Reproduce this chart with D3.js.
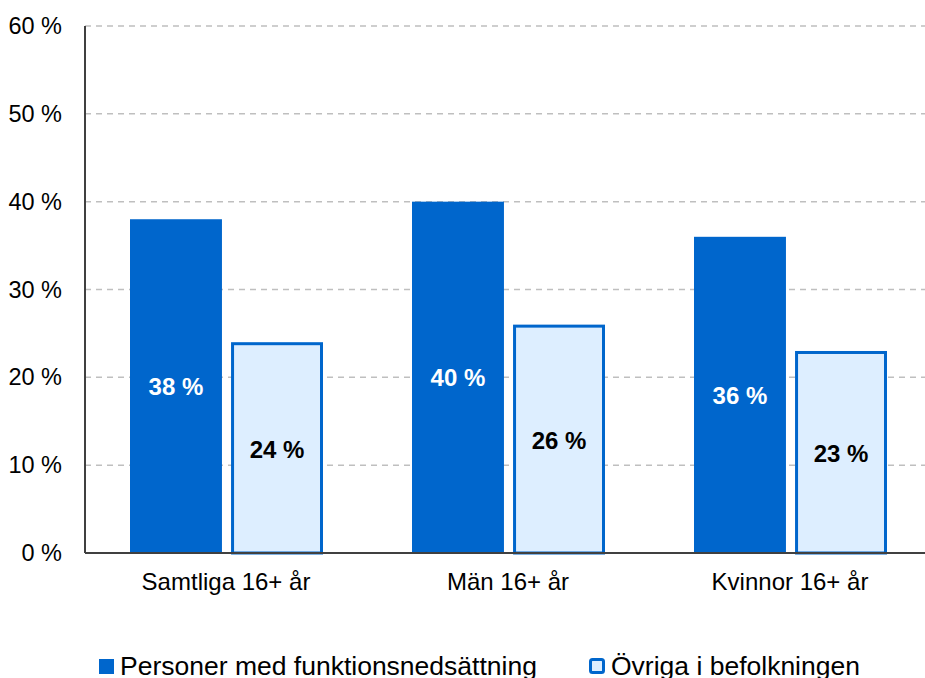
<!DOCTYPE html>
<html>
<head>
<meta charset="utf-8">
<script src="https://cdn.jsdelivr.net/npm/d3@7"></script>
<style>
  body { margin: 0; background: #fff; }
  svg { font-family: "Liberation Sans", Arial, sans-serif; }
</style>
</head>
<body>
<svg width="925" height="678"></svg>
<script>
const categories = ['Samtliga 16+ år', 'Män 16+ år', 'Kvinnor 16+ år'];
const seriesNames = ['Personer med funktionsnedsättning', 'Övriga i befolkningen'];
const funktion = [38, 40, 36];
const ovriga = [24, 26, 23];
const yTicks = [0, 10, 20, 30, 40, 50, 60];

const svg = d3.select('svg');
const margin = {left: 85, right: 0, top: 26, bottom: 125};
const width = 925, height = 678;

const x = d3.scaleBand()
    .domain(categories)
    .range([margin.left, margin.left + 3 * 282])
    .paddingInner(0)
    .paddingOuter(0);

const xSub = d3.scaleBand()
    .domain(seriesNames)
    .range([45, 238])
    .paddingInner(0.09);

const y = d3.scaleLinear()
    .domain([0, 60])
    .range([height - margin.bottom, margin.top]);

// gridlines
svg.append('g')
    .selectAll('line')
    .data(yTicks.filter(d => d > 0))
    .enter()
    .append('line')
    .attr('x1', margin.left)
    .attr('x2', width)
    .attr('y1', d => y(d))
    .attr('y2', d => y(d))
    .style('stroke', '#bfbfbf')
    .style('stroke-width', 1.5)
    .style('stroke-dasharray', '6,5');

// y axis labels
svg.append('g')
    .selectAll('text')
    .data(yTicks)
    .enter()
    .append('text')
    .attr('x', 62)
    .attr('y', d => y(d) + 8)
    .attr('text-anchor', 'end')
    .style('font-size', '23.5px')
    .style('fill', '#000')
    .text(d => d + ' %');

const data = categories.map((c, i) => ({cat: c, values: [funktion[i], ovriga[i]]}));

const groups = svg.append('g')
    .selectAll('g')
    .data(data)
    .enter()
    .append('g')
    .attr('transform', d => 'translate(' + x(d.cat) + ',0)');

// dark bars
groups.append('rect')
    .attr('x', xSub(seriesNames[0]))
    .attr('width', xSub.bandwidth())
    .attr('y', d => y(d.values[0]))
    .attr('height', d => y(0) - y(d.values[0]))
    .style('fill', '#0066cc');

// light bars
groups.append('rect')
    .attr('x', xSub(seriesNames[1]) + 1.5)
    .attr('width', xSub.bandwidth() - 3)
    .attr('y', d => y(d.values[1]) + 1.5)
    .attr('height', d => y(0) - y(d.values[1]) - 1.5)
    .style('fill', '#ddeeff')
    .style('stroke', '#0066cc')
    .style('stroke-width', 3);

// value labels
groups.append('text')
    .attr('x', xSub(seriesNames[0]) + xSub.bandwidth() / 2)
    .attr('y', d => (y(d.values[0]) + y(0)) / 2 + 9)
    .attr('text-anchor', 'middle')
    .style('font-size', '24px')
    .style('font-weight', 'bold')
    .style('fill', '#fff')
    .text(d => d.values[0] + ' %');

groups.append('text')
    .attr('x', xSub(seriesNames[1]) + xSub.bandwidth() / 2)
    .attr('y', d => (y(d.values[1]) + y(0)) / 2 + 10)
    .attr('text-anchor', 'middle')
    .style('font-size', '24px')
    .style('font-weight', 'bold')
    .style('fill', '#000')
    .text(d => d.values[1] + ' %');

// category labels
groups.append('text')
    .attr('x', x.bandwidth() / 2)
    .attr('y', y(0) + 37)
    .attr('text-anchor', 'middle')
    .style('font-size', '24px')
    .style('fill', '#000')
    .text(d => d.cat);

// axes lines
svg.append('line')
    .attr('x1', margin.left).attr('x2', margin.left)
    .attr('y1', y(60)).attr('y2', y(0))
    .style('stroke', '#404040').style('stroke-width', 2);
svg.append('line')
    .attr('x1', margin.left).attr('x2', width)
    .attr('y1', y(0)).attr('y2', y(0))
    .style('stroke', '#404040').style('stroke-width', 2);

// legend
const legend = svg.append('g');
legend.append('rect')
    .attr('x', 99).attr('y', 659).attr('width', 15).attr('height', 15)
    .style('fill', '#0066cc');
legend.append('text')
    .attr('x', 120).attr('y', 675)
    .style('font-size', '26.5px')
    .text(seriesNames[0]);
legend.append('rect')
    .attr('x', 590.5).attr('y', 659.5).attr('width', 13).attr('height', 13)
    .attr('rx', 2)
    .style('fill', '#ddeeff')
    .style('stroke', '#0066cc')
    .style('stroke-width', 3);
legend.append('text')
    .attr('x', 611).attr('y', 675)
    .style('font-size', '26.5px')
    .text(seriesNames[1]);
</script>
</body>
</html>
